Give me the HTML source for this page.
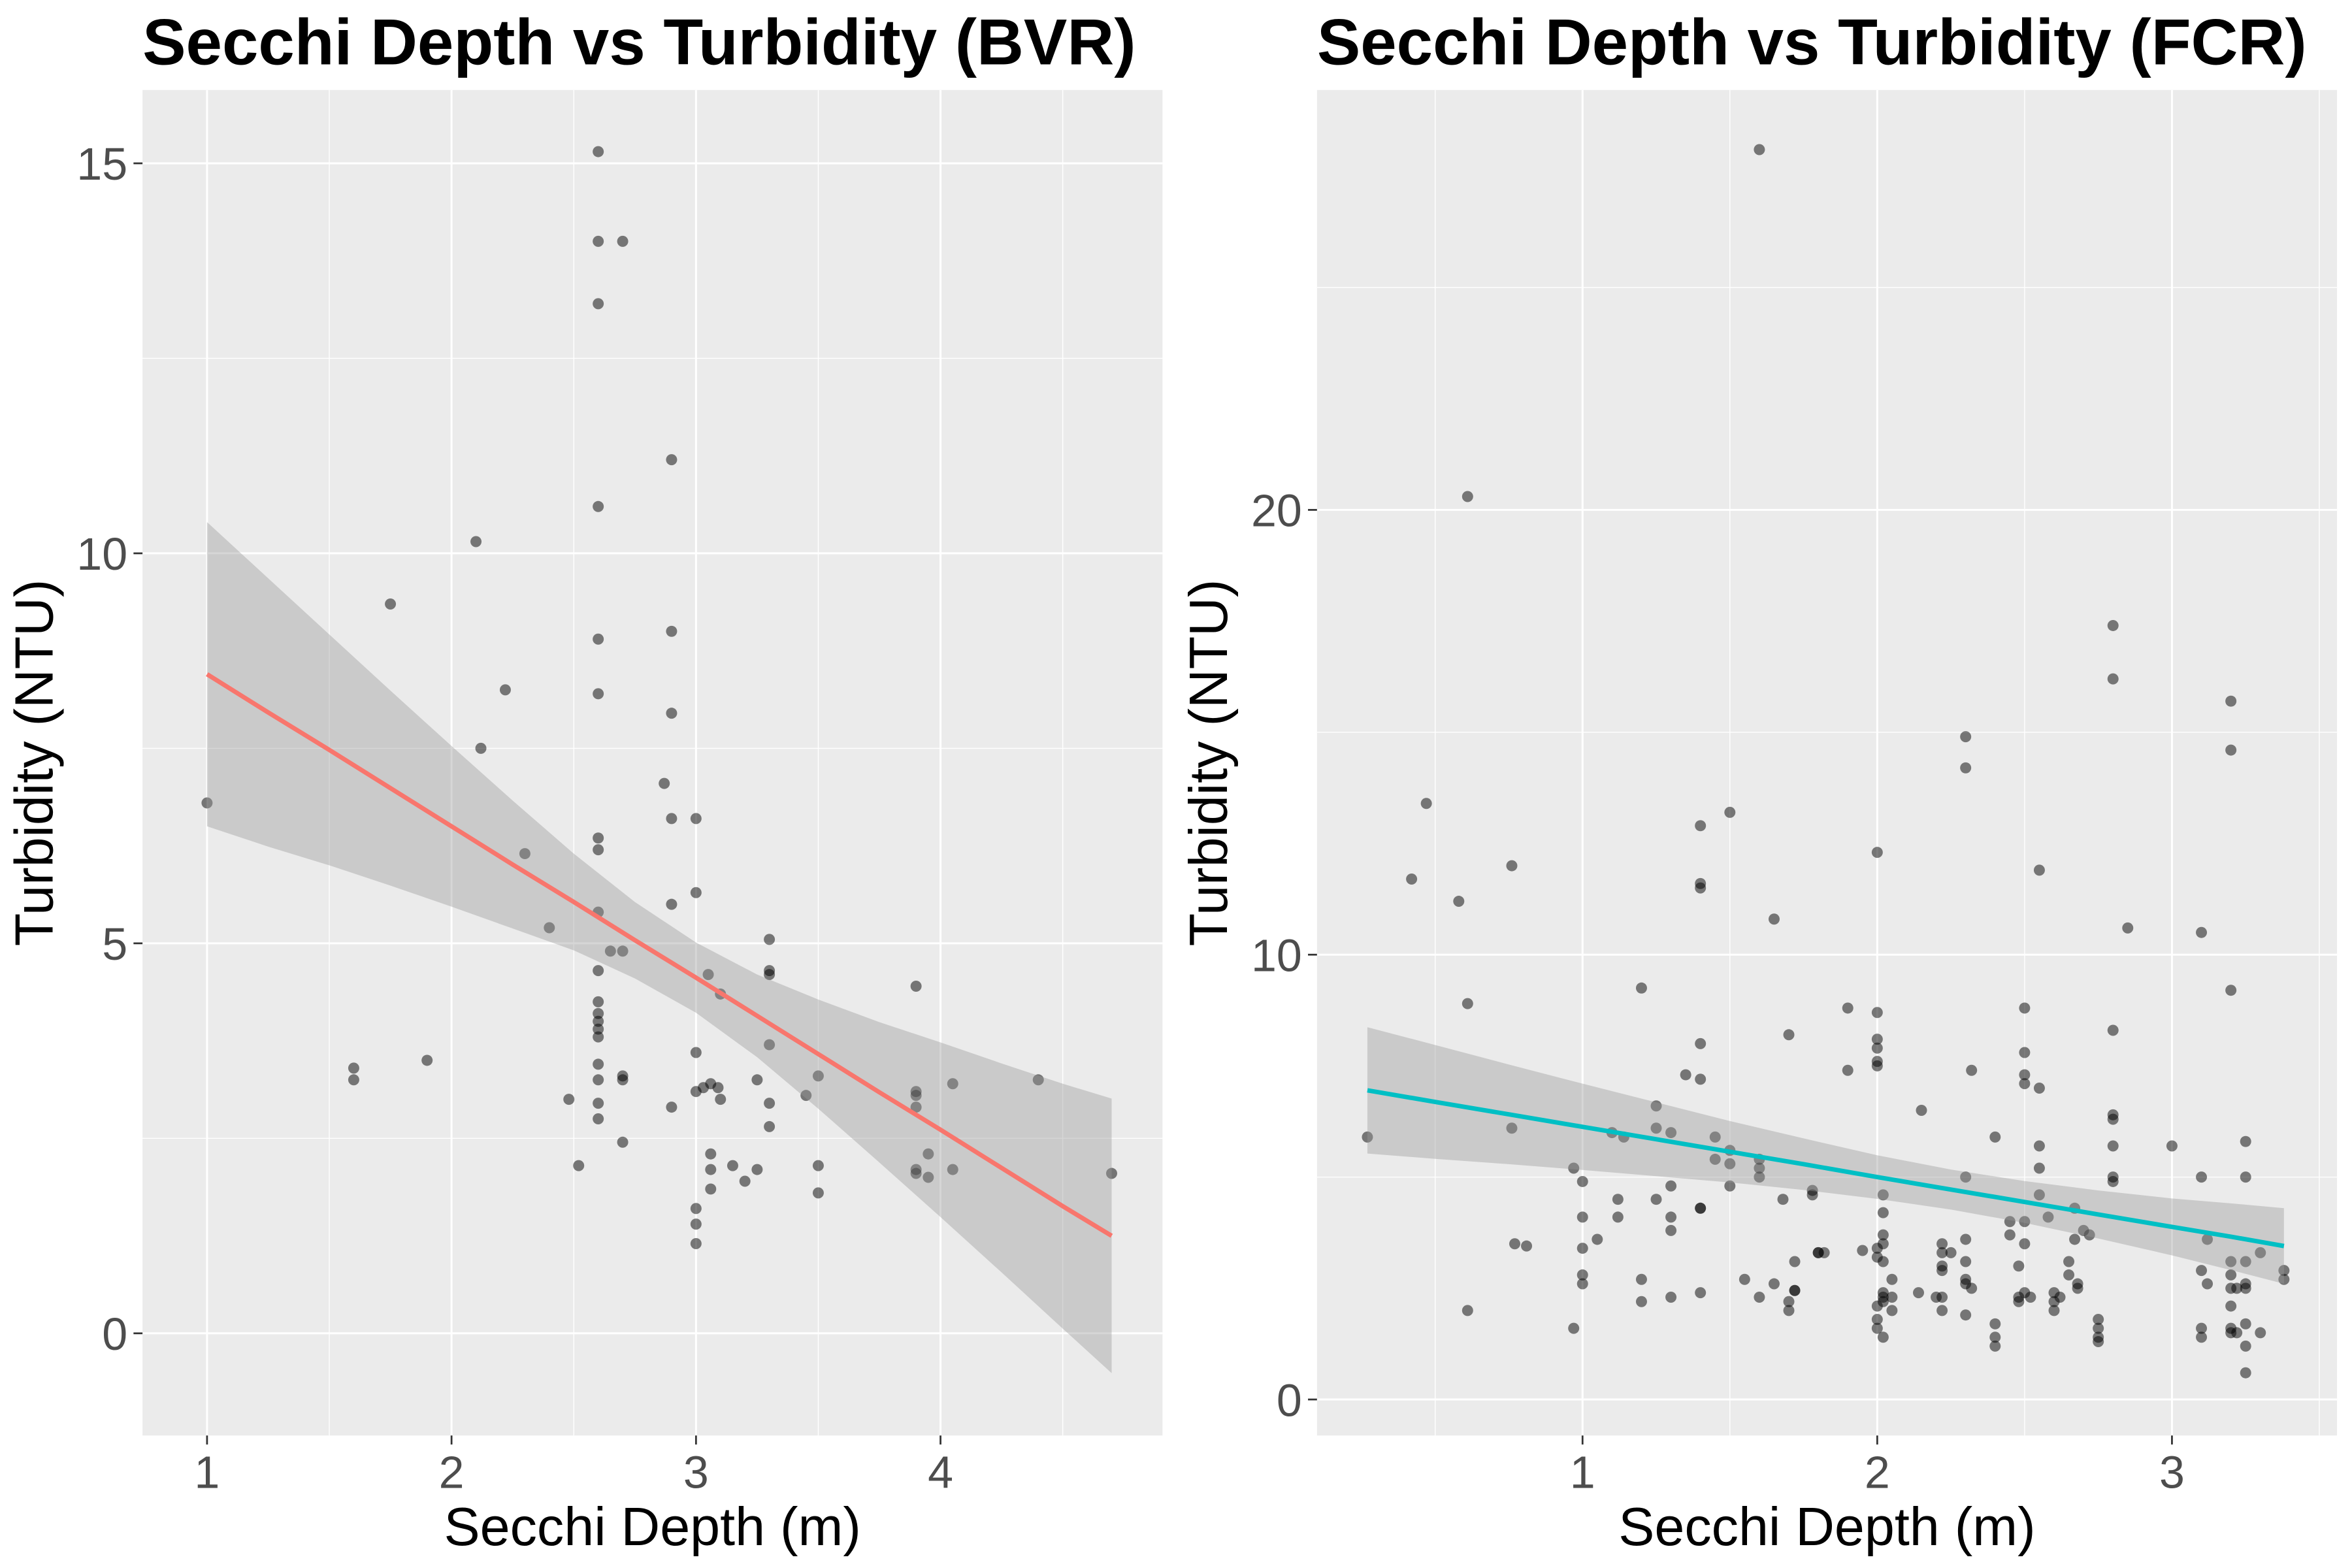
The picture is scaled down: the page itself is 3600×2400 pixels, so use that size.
<!DOCTYPE html>
<html><head><meta charset="utf-8"><style>
html,body{margin:0;padding:0;background:#fff;}
svg{display:block;}
text{font-family:"Liberation Sans",Arial,sans-serif;}
</style></head><body>
<svg id="chart" width="3600" height="2400" viewBox="0 0 1568 1045.33" xmlns="http://www.w3.org/2000/svg"></svg>
<script>
// ---------- BVR data ----------
const bvrX = [1,1.6,1.6,1.75,1.9,2.1,2.12,2.22,2.3,2.4,2.48,2.52,2.6,2.6,2.6,2.6,2.6,2.6,2.6,2.6,2.6,2.6,2.6,2.6,2.6,2.6,2.6,2.6,2.6,2.6,2.6,2.65,2.7,2.7,2.7,2.7,2.7,2.87,2.9,2.9,2.9,2.9,2.9,2.9,3.0,3.0,3.0,3.0,3.0,3.0,3.0,3.03,3.05,3.06,3.06,3.06,3.06,3.09,3.1,3.1,3.15,3.2,3.25,3.25,3.3,3.3,3.3,3.3,3.3,3.3,3.45,3.5,3.5,3.5,3.9,3.9,3.9,3.9,3.9,3.9,3.95,3.95,4.05,4.05,4.4,4.7];
const bvrY = [6.8,3.4,3.25,9.35,3.5,10.15,7.5,8.25,6.15,5.2,3.0,2.15,15.15,14,13.2,10.6,8.9,8.2,6.35,6.2,5.4,4.65,4.25,4.1,4.0,3.9,3.8,3.45,3.25,2.95,2.75,4.9,14,4.9,3.3,3.25,2.45,7.05,11.2,9.0,7.95,6.6,5.5,2.9,6.6,5.65,3.6,3.1,1.6,1.4,1.15,3.15,4.6,3.2,2.3,2.1,1.85,3.15,3.0,4.35,2.15,1.95,3.25,2.1,5.05,4.65,4.6,3.7,2.95,2.65,3.05,3.3,2.15,1.8,4.45,3.1,3.05,2.9,2.1,2.05,2.3,2.0,3.2,2.1,3.25,2.05];
const bvrFitX = [1,1.25,1.5,1.75,2,2.25,2.5,2.75,3,3.25,3.5,3.75,4,4.25,4.5,4.7];
const bvrFitY = [8.45,7.96,7.48,6.99,6.50,6.01,5.53,5.04,4.56,4.07,3.58,3.09,2.61,2.12,1.63,1.25];
const bvrCiLo = [6.50,6.24,6.00,5.74,5.47,5.19,4.91,4.55,4.11,3.54,2.88,2.19,1.49,0.78,0.06,-0.51];
const bvrCiHi = [10.40,9.68,8.96,8.24,7.53,6.83,6.15,5.53,5.01,4.60,4.28,3.99,3.73,3.46,3.20,3.01];
const bvrXTicks = [1,2,3,4];
const bvrYTicks = [0,5,10,15];
// ---------- FCR data ----------
const fcrX = [0.27,0.42,0.47,0.58,0.61,0.61,0.61,0.76,0.76,0.77,0.81,0.97,0.97,1.0,1.0,1.0,1.0,1.0,1.05,1.1,1.12,1.12,1.14,1.2,1.2,1.2,1.25,1.25,1.25,1.3,1.3,1.3,1.3,1.3,1.35,1.4,1.4,1.4,1.4,1.4,1.4,1.4,1.4,1.45,1.45,1.5,1.5,1.5,1.5,1.55,1.6,1.6,1.6,1.6,1.6,1.65,1.65,1.68,1.7,1.7,1.7,1.72,1.72,1.72,1.78,1.78,1.8,1.8,1.82,1.9,1.9,1.95,2.0,2.0,2.0,2.0,2.0,2.0,2.0,2.0,2.0,2.0,2.0,2.02,2.02,2.02,2.02,2.02,2.02,2.02,2.02,2.02,2.05,2.05,2.05,2.14,2.15,2.2,2.22,2.22,2.22,2.22,2.22,2.22,2.25,2.3,2.3,2.3,2.3,2.3,2.3,2.3,2.3,2.32,2.32,2.4,2.4,2.4,2.4,2.45,2.45,2.48,2.48,2.48,2.5,2.5,2.5,2.5,2.5,2.5,2.5,2.52,2.55,2.55,2.55,2.55,2.55,2.58,2.6,2.6,2.6,2.62,2.65,2.65,2.67,2.67,2.68,2.68,2.7,2.72,2.75,2.75,2.75,2.75,2.8,2.8,2.8,2.8,2.8,2.8,2.8,2.8,2.85,3.0,3.1,3.1,3.1,3.1,3.1,3.12,3.12,3.2,3.2,3.2,3.2,3.2,3.2,3.2,3.2,3.2,3.22,3.22,3.25,3.25,3.25,3.25,3.25,3.25,3.25,3.25,3.3,3.3,3.38,3.38];
const fcrY = [5.9,11.7,13.4,11.2,20.3,8.9,2.0,12,6.1,3.5,3.45,5.2,1.6,4.9,4.1,3.4,2.8,2.6,3.6,6.0,4.5,4.1,5.9,9.25,2.7,2.2,6.6,6.1,4.5,6.0,4.8,4.1,3.8,2.3,7.3,12.9,11.6,11.5,8.0,7.2,4.3,4.3,2.4,5.9,5.4,13.2,5.6,5.3,4.8,2.7,28.1,5.4,5.2,5.0,2.3,10.8,2.6,4.5,8.2,2.2,2.0,3.1,2.45,2.45,4.7,4.6,3.3,3.3,3.3,8.8,7.4,3.35,12.3,8.7,8.1,7.9,7.6,7.5,3.4,3.2,2.1,1.8,1.6,4.6,4.2,3.7,3.5,3.1,2.4,2.3,2.2,1.4,2.3,2.7,2.0,2.4,6.5,2.3,3.5,3.3,3.0,2.9,2.3,2.0,3.3,14.9,14.2,5.0,3.6,3.1,2.7,2.6,1.9,7.4,2.5,5.9,1.7,1.4,1.2,4.0,3.7,3.0,2.3,2.2,8.8,7.8,7.3,7.1,4.0,3.5,2.4,2.3,11.9,7.0,5.7,5.2,4.6,4.1,2.4,2.2,2.0,2.3,3.1,2.8,4.3,3.6,2.6,2.5,3.8,3.7,1.8,1.6,1.4,1.3,17.4,16.2,8.3,6.4,6.3,5.7,5.0,4.9,10.6,5.7,10.5,5.0,2.9,1.6,1.4,3.6,2.6,15.7,14.6,9.2,3.1,2.8,2.5,2.1,1.6,1.5,1.5,2.5,5.8,5.0,3.1,2.6,2.5,1.7,1.2,0.6,3.3,1.5,2.9,2.7];
const fcrFitX = [0.27,0.5,0.75,1,1.25,1.5,1.75,2,2.25,2.5,2.75,3,3.2,3.38];
const fcrFitY = [6.95,6.69,6.41,6.13,5.85,5.57,5.29,5.00,4.72,4.44,4.16,3.88,3.66,3.45];
const fcrCiLo = [5.53,5.41,5.29,5.16,5.02,4.88,4.71,4.51,4.27,3.97,3.62,3.24,2.91,2.60];
const fcrCiHi = [8.37,7.97,7.53,7.10,6.68,6.26,5.87,5.49,5.17,4.91,4.70,4.52,4.41,4.30];
const fcrXTicks = [1,2,3];
const fcrYTicks = [0,10,20];

const NS = "http://www.w3.org/2000/svg";
const svg = document.getElementById('chart');
function mk(tag, attrs, parent){
  const e = document.createElementNS(NS, tag);
  for (const k in attrs) e.setAttribute(k, attrs[k]);
  (parent||svg).appendChild(e);
  return e;
}

function panel(cfg){
  const g = mk('g', {});
  
  
  const L=cfg.left, R=cfg.right, T=60, B=957;
  const sx = v => L + (v - cfg.xmin) / (cfg.xmax - cfg.xmin) * (R - L);
  const sy = v => B - (v - cfg.ymin) / (cfg.ymax - cfg.ymin) * (B - T);
  const bg = mk('rect', {x:L, y:T, width:R-L, height:B-T, fill:'#ebebeb'}, g);
  
  
  cfg.xMinor.forEach(v => mk('line', {x1:sx(v), x2:sx(v), y1:T, y2:B, stroke:'#fff', 'stroke-width':0.6}, g));
  cfg.yMinor.forEach(v => mk('line', {x1:L, x2:R, y1:sy(v), y2:sy(v), stroke:'#fff', 'stroke-width':0.6}, g));
  cfg.xTicks.forEach(v => mk('line', {x1:sx(v), x2:sx(v), y1:T, y2:B, stroke:'#fff', 'stroke-width':1.3}, g));
  cfg.yTicks.forEach(v => mk('line', {x1:L, x2:R, y1:sy(v), y2:sy(v), stroke:'#fff', 'stroke-width':1.3}, g));
  for (let i=0;i<cfg.px.length;i++){
    const c = mk('circle', {cx:sx(cfg.px[i]), cy:sy(cfg.py[i]), r:3.7, fill:'#000', 'fill-opacity':0.5}, g);
    
    
  }
  let d = '';
  cfg.fx.forEach((v,i)=>{ d += (i?'L':'M') + sx(v) + ',' + sy(cfg.hi[i]); });
  for (let i=cfg.fx.length-1;i>=0;i--) d += 'L' + sx(cfg.fx[i]) + ',' + sy(cfg.lo[i]);
  const band = mk('path', {d:d+'Z', fill:'#999999', 'fill-opacity':0.4}, g);
  
  
  let ld = '';
  cfg.fx.forEach((v,i)=>{ ld += (i?'L':'M') + sx(v) + ',' + sy(cfg.fy[i]); });
  const line = mk('path', {d:ld, fill:'none', stroke:cfg.color, 'stroke-width':3}, g);
  
  
  cfg.xTicks.forEach(v => {
    mk('line', {x1:sx(v), x2:sx(v), y1:B, y2:B+6, stroke:'#333', 'stroke-width':1.2}, g);
    const t = mk('text', {x:sx(v), y:B+35, 'font-size':30.5, fill:'#4d4d4d', 'text-anchor':'middle'}, g);
    t.textContent = v;
    
    
  });
  cfg.yTicks.forEach(v => {
    mk('line', {x1:L-6, x2:L, y1:sy(v), y2:sy(v), stroke:'#333', 'stroke-width':1.2}, g);
    const t = mk('text', {x:L-10, y:sy(v)+11, 'font-size':30.5, fill:'#4d4d4d', 'text-anchor':'end'}, g);
    t.textContent = v;
    
    
  });
  const xt = mk('text', {x:(L+R)/2, y:1030, 'font-size':36, fill:'#000', 'text-anchor':'middle'}, g);
  xt.textContent = 'Secchi Depth (m)';
  
  
  const ytx = L - 60;
  const yt = mk('text', {x:ytx, y:(T+B)/2, 'font-size':36, fill:'#000', 'text-anchor':'middle', transform:'rotate(-90 '+ytx+' '+((T+B)/2)+')'}, g);
  yt.textContent = 'Turbidity (NTU)';
  
  
  const tt = mk('text', {x:L, y:43, 'font-size':43.4, 'font-weight':'bold', fill:'#000'}, g);
  tt.textContent = cfg.title;
  
  
}

panel({id:'bvr', left:95, right:775, xmin:0.736, xmax:4.908, ymin:-1.31, ymax:15.94,
  xTicks:bvrXTicks, yTicks:bvrYTicks, xMinor:[1.5,2.5,3.5,4.5], yMinor:[2.5,7.5,12.5],
  px:bvrX, py:bvrY, fx:bvrFitX, fy:bvrFitY, lo:bvrCiLo, hi:bvrCiHi, color:'#F8766D',
  title:'Secchi Depth vs Turbidity (BVR)'});
panel({id:'fcr', left:878, right:1558, xmin:0.099, xmax:3.56, ymin:-0.81, ymax:29.44,
  xTicks:fcrXTicks, yTicks:fcrYTicks, xMinor:[0.5,1.5,2.5,3.5], yMinor:[5,15,25],
  px:fcrX, py:fcrY, fx:fcrFitX, fy:fcrFitY, lo:fcrCiLo, hi:fcrCiHi, color:'#00BFC4',
  title:'Secchi Depth vs Turbidity (FCR)'});
</script>
</body></html>
